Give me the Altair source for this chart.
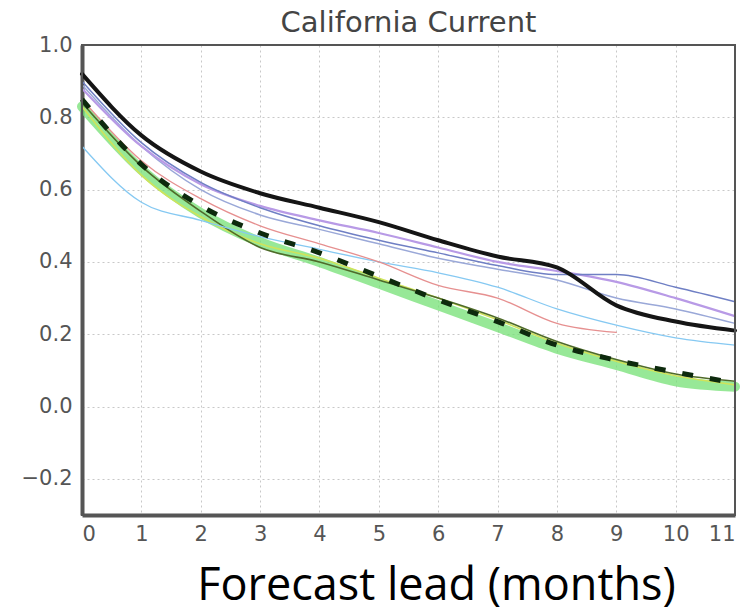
import altair as alt
import pandas as pd

# Forecast lead in months
lead = list(range(12))

# Anomaly correlation skill by lead for each forecast system
skill_mme_band = [0.83, 0.655, 0.535, 0.455, 0.40, 0.34, 0.28, 0.22, 0.16, 0.115, 0.07, 0.055]
skill_olive = [0.84, 0.665, 0.54, 0.44, 0.40, 0.35, 0.30, 0.245, 0.18, 0.13, 0.09, 0.07]
skill_yellow = [0.83, 0.64, 0.525, 0.45, 0.41, 0.355, 0.30, 0.24, 0.175, 0.125, 0.085, 0.06]
skill_cyan = [0.72, 0.565, 0.515, 0.47, 0.435, 0.40, 0.37, 0.33, 0.27, 0.225, 0.19, 0.17]
skill_pink = [0.85, 0.68, 0.575, 0.50, 0.45, 0.40, 0.335, 0.30, 0.23, 0.205, None, None]
skill_lavender = [0.88, 0.72, 0.615, 0.555, 0.515, 0.48, 0.44, 0.40, 0.375, 0.345, 0.30, 0.25]
skill_steel = [0.90, 0.73, 0.62, 0.55, 0.50, 0.46, 0.425, 0.39, 0.365, 0.365, 0.33, 0.29]
skill_slate = [0.89, 0.72, 0.60, 0.53, 0.49, 0.45, 0.41, 0.38, 0.35, 0.30, 0.27, 0.23]
skill_mme = [0.85, 0.67, 0.555, 0.48, 0.425, 0.36, 0.295, 0.235, 0.17, 0.128, 0.095, 0.065]
skill_persistence = [0.92, 0.75, 0.65, 0.59, 0.55, 0.51, 0.46, 0.415, 0.385, 0.28, 0.235, 0.21]

y_ticks = [-0.2, 0.0, 0.2, 0.4, 0.6, 0.8, 1.0]

# (values, colour, width, dash, opacity) in drawing order
series = [
    (skill_mme_band, "#74e074", 10, None, 0.75),
    (skill_yellow, "#cfe35a", 1.6, None, 1.0),
    (skill_olive, "#4f6b2a", 1.6, None, 1.0),
    (skill_cyan, "#86c9f2", 1.3, None, 1.0),
    (skill_pink, "#e69090", 1.3, None, 1.0),
    (skill_slate, "#9aa8d8", 1.5, None, 1.0),
    (skill_lavender, "#b89ae6", 2.2, None, 1.0),
    (skill_steel, "#6f7fc4", 1.5, None, 1.0),
    (skill_mme, "#0d2a0d", 5, [11, 17], 1.0),
    (skill_persistence, "#151515", 4, None, 1.0),
]

W, H = 653, 470

x_scale = alt.Scale(domain=[0, 11], nice=False, zero=False)
y_scale = alt.Scale(domain=[-0.3, 1.0], nice=False, zero=False)

x_axis = alt.Axis(
    values=lead, format="d", title="Forecast lead (months)",
    titleFont="Open Sans", titleFontSize=45, titleFontWeight="normal",
    titleColor="#000000", titleX=354, titleY=84, titleAlign="center",
    titleBaseline="alphabetic",
    labelFont="DejaVu Sans", labelFontSize=21, labelColor="#555555",
    labelPadding=8, ticks=False,
    domainColor="#555555", domainWidth=4,
    grid=True, gridColor="#c8c8c8", gridDash=[2, 3], gridWidth=1,
)
y_axis = alt.Axis(
    values=y_ticks, format=".1f", title=None,
    labelFont="DejaVu Sans", labelFontSize=21, labelColor="#555555",
    labelPadding=10, ticks=False,
    domainColor="#555555", domainWidth=4,
    grid=True, gridColor="#c8c8c8", gridDash=[2, 3], gridWidth=1,
)

layers = []
for vals, color, width, dash, opacity in series:
    df = pd.DataFrame({"lead": lead, "skill": vals}).dropna()
    kw = dict(color=color, strokeWidth=width, opacity=opacity,
              interpolate="monotone", strokeCap="butt" if dash else "round")
    if dash:
        kw["strokeDash"] = dash
    layers.append(
        alt.Chart(df).mark_line(**kw).encode(
            x=alt.X("lead:Q", scale=x_scale, axis=x_axis),
            y=alt.Y("skill:Q", scale=y_scale, axis=y_axis),
        )
    )

# plot frame (top and right edges of the axes box)
frame = alt.Chart(pd.DataFrame({"k": [0]})).mark_rect(
    fill=None, stroke="#555555", strokeWidth=2
).encode(x=alt.value(0), x2=alt.value(W), y=alt.value(0), y2=alt.value(H))

chart = (
    alt.layer(*layers, frame)
    .properties(
        width=W, height=H,
        title=alt.TitleParams(
            "California Current", font="DejaVu Sans", fontSize=29,
            fontWeight="normal", color="#444444", offset=-4, anchor="middle",
        ),
        autosize=alt.AutoSizeParams(type="none"),
        padding={"left": 82, "top": 45, "right": 13, "bottom": 98},
        background="white",
    )
    .configure_view(stroke=None)
)

chart.save("out.html", embed_options={"renderer": "svg", "actions": False})
